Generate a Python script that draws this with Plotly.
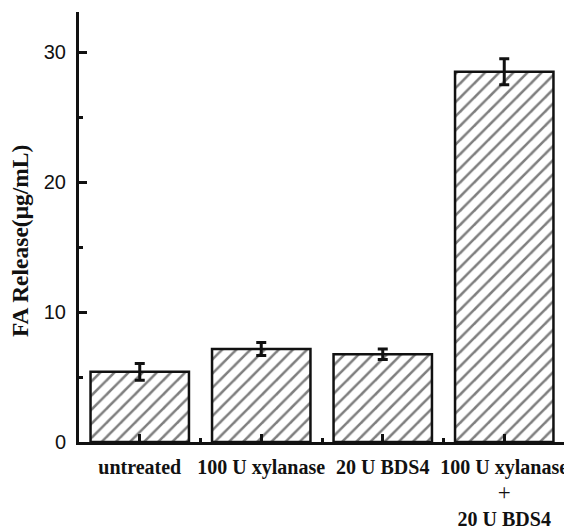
import plotly.graph_objects as go

categories = ["untreated", "100 U xylanase", "20 U BDS4", "100 U xylanase + 20 U BDS4"]
tick_labels = ["untreated", "100 U xylanase", "20 U BDS4",
               "100 U xylanase<br><span style='font-weight:normal;font-size:23px'>+</span><br>20 U BDS4"]
fa_release = [5.4, 7.15, 6.75, 28.5]
fa_error = [0.65, 0.5, 0.4, 1.0]
y_title = "FA Release(μg/mL)"

xpos = list(range(len(categories)))
INK = "#111111"

fig = go.Figure()
fig.add_trace(go.Bar(
    x=xpos, y=fa_release, width=0.81,
    marker=dict(color="white", line=dict(color=INK, width=2.5),
                pattern=dict(shape="/", fgcolor="#000000", bgcolor="white", size=10, solidity=0.25)),
    error_y=dict(type="data", array=fa_error, visible=True, color=INK, thickness=3, width=5),
    showlegend=False,
))

# page body has an 8px margin, so the figure is offset by (8, 8)
fig.update_layout(
    width=564, height=520,
    margin=dict(l=71, r=7, t=4, b=86),
    plot_bgcolor="white", paper_bgcolor="white",
    annotations=[dict(text=y_title, textangle=-90, xref="paper", yref="paper",
                      x=-0.1214, y=0.4674, xanchor="center", yanchor="middle", showarrow=False,
                      font=dict(family="Liberation Serif", size=23.5, color=INK, weight="bold"))],
)
fig.update_xaxes(
    range=[-0.5, 3.5], tickmode="array", tickvals=xpos, ticktext=tick_labels,
    showline=True, linecolor=INK, linewidth=3, showgrid=False, zeroline=False,
    ticks="inside", ticklen=8, tickwidth=2.5, tickcolor=INK,
    minor=dict(ticks="inside", tickmode="array", tickvals=[0.5, 1.5, 2.5, 3.5], ticklen=4, tickwidth=2.5, tickcolor=INK),
    tickfont=dict(family="Liberation Serif", size=20, color=INK, weight="bold"),
    ticklabelstandoff=5, automargin=False,
)
fig.update_yaxes(
    range=[0, 33.1], tickvals=[0, 10, 20, 30],
    showline=True, linecolor=INK, linewidth=3, showgrid=False, zeroline=False,
    ticks="inside", ticklen=8, tickwidth=3, tickcolor=INK,
    minor=dict(ticks="inside", tickvals=[5, 15, 25], ticklen=4, tickwidth=3, tickcolor=INK),
    tickfont=dict(family="Liberation Sans", size=20, color=INK),
    ticklabelstandoff=6, automargin=False,
)

fig.write_html("out.html")
